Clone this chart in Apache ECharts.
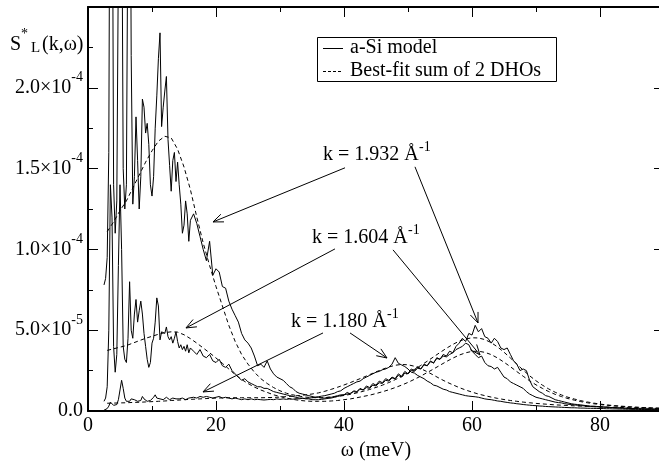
<!DOCTYPE html>
<html><head><meta charset="utf-8">
<script src="https://cdn.jsdelivr.net/npm/echarts@6/dist/echarts.min.js"></script>
<style>html,body{margin:0;padding:0;background:#fff}#c{width:659px;height:462px}</style>
</head><body><div id="c"></div>
<script>
// ---- data (values in units of 1e-5) ----
const omega = [2.5,2.75,3,3.25,3.5,3.75,4,4.25,4.5,4.75,5,5.25,5.5,5.75,6,6.25,6.5,6.75,7,7.25,7.5,7.75,8,8.25,8.5,8.75,9,9.25,9.5,9.75,10,10.25,10.5,10.75,11,11.25,11.5,11.75,12,12.25,12.5,12.75,13,13.25,13.5,13.75,14,14.25,14.5,14.75,15,15.25,15.5,15.75,16,
16.5,17,17.5,18,18.5,19,19.5,20,20.5,21,21.5,22,22.5,23,23.5,24,24.5,25,25.5,26,26.5,27,27.5,28,28.5,29,29.5,30,30.5,31,31.5,32,32.5,33,33.5,34,34.5,35,35.5,36,
36.5,37,37.5,38,38.5,39,39.5,40,40.5,41,41.5,42,42.5,43,43.5,44,44.5,45,45.5,46,46.5,47,47.5,48,48.5,49,49.5,50,50.5,51,51.5,52,52.5,53,53.5,54,54.5,55,55.5,56,
56.5,57,57.5,58,58.5,59,59.5,60,60.5,61,61.5,62,62.5,63,63.5,64,64.5,65,65.5,66,66.5,67,67.5,68,68.5,69,69.5,70,70.5,71,71.5,72,72.5,73,73.5,74,74.5,75,75.5,76,
76.5,77,77.5,78,78.5,79,79.5,80,80.5,81,81.5,82,82.5,83,83.5,84,84.5,85,85.5,86,86.5,87,87.5,88,88.5,89,89.5,90];

const sK1932 = [7.8,8.2,9.5,16,45,40,14,11,13,28, 45,35,15,12.5,14,32,45,22,12.8,14.5,
18.2,15.5,12.5,14.5,19.3,18.8,17.2,17.8,16.5,14, 13.3,14.5,17.5,19.5,21.8,23.4,17.6,18.8,19.8,20.7,
16.8,15.2,13.6,15.5,16.0,14.2,15.4,14.0,12.8,11.0, 11.5,13.0,12.2,10.5,11.8,
12.2,11.6,10.8,10.0,9.3,10.5,8.4,8.8,8.6,7.7, 7.6,6.8,6.3,5.9,5.5,4.8,4.4,4.2,3.9,3.4,
2.8,2.9,2.7,3.1,2.6,2.3,2.1,2.0,1.9,1.7, 1.5,1.4,1.2,1.1,1.05,1.0,0.95,0.9,0.85,0.85,
0.8,0.8,0.85,0.85,0.9,0.95,1.0,1.0,1.15,1.05, 1.25,1.2,1.4,1.3,1.55,1.45,1.7,1.6,1.85,1.75,
2.0,1.9,2.1,2.0,2.3,2.15,2.45,2.3,2.6,2.5, 2.75,2.6,2.9,2.8,3.1,2.95,3.3,3.2,3.5,3.4,
3.7,3.6,4.0,4.2,4.5,4.3,4.8,4.7,5.3,4.9, 5.1,4.6,4.5,4.2,4.5,4.3,3.9,3.8,3.9,3.5,
3.1,2.9,2.5,2.6,2.5,1.9,1.5,1.35,1.2,1.1, 0.95,0.9,0.8,0.7,0.65,0.6,0.55,0.5,0.45,0.42,
0.4,0.38,0.35,0.33,0.3,0.3,0.28,0.27,0.25,0.24, 0.22,0.21,0.2,0.19,0.18,0.17,0.16,0.15,0.15,0.14,
0.13,0.13,0.12,0.12,0.11,0.11,0.1,0.1];

const sK1604 = [0.6,0.8,1.5,5,14,12,4,2.4,3.5,9, 14,10,4,3.2,3.0,4.5,8,5,4.5,6.0,
6.9,5.5,6.2,6.8,6.0,4.8,4.0,3.2,2.7,3.0, 4.2,4.5,5.5,7.0,6.5,4.4,4.9,5.0,4.8,5.2,
4.6,4.4,4.6,4.2,4.5,4.9,4.3,3.9,4.1,3.8, 4.0,3.7,4.1,3.6,3.9,
3.7,3.5,3.8,3.4,3.3,3.5,3.1,3.0,3.2,2.8, 2.7,2.9,2.5,2.3,2.1,1.9,2.0,1.8,1.7,1.6,
1.5,1.5,1.4,1.4,1.3,1.2,1.15,1.1,1.05,1.0, 0.95,0.9,0.85,0.8,0.8,0.75,0.75,0.7,0.7,0.7,
0.72,0.75,0.78,0.8,0.85,0.9,0.95,1.0,1.05,1.1, 1.2,1.15,1.35,1.3,1.45,1.4,1.6,1.55,1.75,1.7,
1.9,1.85,2.05,2.0,2.2,2.1,2.35,2.3,2.5,2.45, 2.65,2.6,2.85,2.8,3.05,3.0,3.25,3.2,3.4,3.35,
3.5,3.6,3.8,3.9,4.0,4.2,4.1,3.7,3.5,3.3, 3.4,3.0,2.8,2.75,2.6,2.7,2.4,2.1,2.0,1.8,
1.7,1.6,1.5,1.4,1.2,1.05,0.95,0.85,0.8,0.75, 0.7,0.65,0.6,0.55,0.52,0.5,0.45,0.42,0.4,0.38,
0.35,0.33,0.32,0.3,0.28,0.27,0.26,0.25,0.24,0.23, 0.22,0.21,0.2,0.19,0.18,0.17,0.16,0.16,0.15,0.14,
0.14,0.13,0.13,0.12,0.12,0.11,0.11,0.1];

const sK1180 = [0.05,0.1,0.15,0.3,0.55,0.6,0.35,0.3,0.4,0.7, 1.3,1.9,1.4,0.8,0.6,0.7,0.6,0.75,0.65,0.7,
0.8,0.6,0.55,0.65,0.9,0.75,0.7,0.6,0.7,0.65, 0.7,0.85,1.0,0.8,0.7,0.75,0.8,0.7,0.75,0.85,
0.8,0.7,0.75,0.8,0.7,0.75,0.8,0.75,0.7,0.8, 0.75,0.7,0.75,0.8,0.8,
0.85,0.8,0.9,0.85,0.9,0.85,0.8,0.85,0.9,0.8, 0.85,0.8,0.75,0.8,0.75,0.7,0.75,0.7,0.75,0.7,
0.72,0.7,0.68,0.7,0.72,0.7,0.75,0.72,0.75,0.72, 0.75,0.73,0.76,0.75,0.78,0.78,0.8,0.82,0.85,0.88,
0.92,0.95,1.0,1.05,1.1,1.2,1.25,1.4,1.5,1.6, 1.7,1.8,1.85,2.0,2.1,2.2,2.3,2.4,2.45,2.55,
2.6,2.7,2.9,3.3,2.95,2.85,2.75,2.6,2.4,2.35, 2.2,2.1,2.0,1.85,1.75,1.6,1.55,1.45,1.35,1.3,
1.2,1.15,1.1,1.05,1.0,0.95,0.92,0.9,0.88,0.85, 0.8,0.75,0.72,0.7,0.66,0.62,0.6,0.56,0.53,0.5,
0.48,0.45,0.43,0.4,0.38,0.36,0.34,0.33,0.31,0.3, 0.28,0.27,0.26,0.25,0.24,0.23,0.22,0.21,0.2,0.2,
0.19,0.18,0.18,0.17,0.17,0.16,0.16,0.15,0.15,0.14, 0.14,0.13,0.13,0.12,0.12,0.11,0.11,0.1,0.1,0.1,
0.09,0.09,0.09,0.08,0.08,0.08,0.08,0.07];

const omegaFit = [3,4,5,6,7,8,9,10,11,12,13,14,15,16,17,18,19,20,21,22,23,24,25,26,27,28,29,30,31,32,33,34,35,36,37,38,39,40,41,42,43,44,45,46,47,48,49,50,51,52,53,54,55,56,57,58,59,60,61,62,63,64,65,66,67,68,69,70,71,72,73,74,75,76,77,78,79,80,81,82,83,84,85,86,87,88,89,90];

const fitK1932 = [11.1,11.7,12.4,13.0,13.8,14.6,15.4,16.1,16.7,17.0, 16.9,16.2,15.1,13.7,12.0,10.4,9.0,7.7,6.5,5.3,
4.3,3.5,2.9,2.4,2.0,1.7,1.45,1.25,1.1,1.0, 0.92,0.86,0.83,0.82,0.83,0.86,0.9,0.96,1.03,1.12,
1.22,1.33,1.46,1.6,1.76,1.94,2.13,2.34,2.57,2.82, 3.08,3.35,3.62,3.88,4.12,4.32,4.46,4.53,4.52,4.42,
4.23,3.96,3.64,3.28,2.9,2.53,2.18,1.87,1.6,1.36, 1.16,0.99,0.85,0.74,0.64,0.56,0.49,0.43,0.38,0.34,
0.31,0.28,0.25,0.23,0.21,0.19,0.18,0.16];

const fitK1604 = [3.75,3.85,3.95,4.05,4.2,4.35,4.5,4.62,4.75,4.85, 4.9,4.88,4.72,4.48,4.2,3.9,3.6,3.28,2.95,2.6,
2.25,1.95,1.7,1.48,1.3,1.15,1.0,0.9,0.8,0.72, 0.66,0.62,0.6,0.6,0.6,0.62,0.65,0.7,0.75,0.82,
0.9,0.98,1.08,1.19,1.31,1.45,1.6,1.77,1.96,2.16, 2.38,2.6,2.83,3.06,3.27,3.46,3.6,3.69,3.7,3.63,
3.49,3.28,3.02,2.74,2.44,2.15,1.87,1.62,1.4,1.2, 1.03,0.89,0.77,0.67,0.58,0.51,0.45,0.4,0.36,0.32,
0.29,0.26,0.24,0.22,0.2,0.18,0.17,0.15];

const fitK1180 = [0.48,0.49,0.5,0.51,0.53,0.54,0.56,0.58,0.6,0.62, 0.65,0.67,0.7,0.72,0.74,0.76,0.78,0.8,0.81,0.82,
0.82,0.82,0.82,0.82,0.82,0.83,0.84,0.86,0.89,0.92, 0.96,1.0,1.05,1.12,1.22,1.34,1.47,1.61,1.76,1.92,
2.08,2.25,2.42,2.58,2.72,2.83,2.88,2.86,2.77,2.62, 2.43,2.22,2.0,1.8,1.62,1.45,1.3,1.17,1.05,0.95,
0.86,0.78,0.71,0.65,0.6,0.55,0.51,0.47,0.44,0.41, 0.38,0.36,0.34,0.32,0.3,0.28,0.27,0.25,0.24,0.23,
0.22,0.21,0.2,0.19,0.18,0.17,0.16,0.15];

const yTickLabels = {0:['0.0',''], 5:['5.0×10','-5'], 10:['1.0×10','-4'], 15:['1.5×10','-4'], 20:['2.0×10','-4']};
const legendNames = ['a-Si model', 'Best-fit sum of 2 DHOs'];
const kLabels = ['k = 1.932 Å', 'k = 1.604 Å', 'k = 1.180 Å'];

// ---- annotation layout ----
const arrowDefs = [
  [[40.16,15.05],[19.53,11.70]],
  [[51.09,15.11],[60.94,5.45]],
  [[38.59,10.03],[15.31,5.14]],
  [[47.66,9.97],[61.25,3.47]],
  [[36.72,4.83],[17.97,1.18]],
  [[40.94,4.83],[46.72,3.28]]
];
const labelPos = [[323,155,419,147],[312,238,408,230],[291,322,387,314]];

const FONT = "'Liberation Serif', 'Times New Roman', serif";
const chart = echarts.init(document.getElementById('c'), null, {renderer:'canvas'});

function pairs(xs, ys){ return xs.map((x,i)=>[x, ys[i]]); }
const solid = {type:'line', symbol:'none', showSymbol:false, clip:true, animation:false,
  lineStyle:{color:'#000', width:1}, itemStyle:{color:'#000'}, z:3};
const dashed = {type:'line', symbol:'none', showSymbol:false, clip:true, animation:false,
  lineStyle:{color:'#000', width:1, type:[4,3]}, itemStyle:{color:'#000'}, z:2};

const xBase = {type:'value', min:0, max:90, gridIndex:0, splitLine:{show:false}};
const yBase = {type:'value', min:0, max:25, interval:5, gridIndex:0, splitLine:{show:false}};
const lineSt = {color:'#000', width:2};

chart.setOption({
  animation:false,
  backgroundColor:'#fff',
  grid:{left:88, top:7, width:576, height:404, outerBoundsMode:'none', containLabel:false},
  xAxis:[
    Object.assign({}, xBase, {position:'bottom', interval:20,
      axisLine:{show:true, onZero:false, lineStyle:lineSt},
      axisTick:{show:true, inside:true, length:10, lineStyle:{color:'#000', width:1}},
      axisLabel:{show:true, color:'#000', fontFamily:FONT, fontSize:20, margin:5, showMaxLabel:false},
      name:'ω (meV)', nameLocation:'middle', nameGap:22,
      nameTextStyle:{fontFamily:FONT, fontSize:20, color:'#000'}}),
    Object.assign({}, xBase, {position:'bottom', interval:10,
      axisLine:{show:false, onZero:false}, axisTick:{show:true, inside:true, length:5, lineStyle:{color:'#000', width:1}},
      axisLabel:{show:false}}),
    Object.assign({}, xBase, {position:'top', interval:20,
      axisLine:{show:true, onZero:false, lineStyle:lineSt},
      axisTick:{show:true, inside:true, length:10, lineStyle:{color:'#000', width:1}}, axisLabel:{show:false}}),
    Object.assign({}, xBase, {position:'top', interval:10,
      axisLine:{show:false, onZero:false}, axisTick:{show:true, inside:true, length:5, lineStyle:{color:'#000', width:1}},
      axisLabel:{show:false}})
  ],
  yAxis:[
    Object.assign({}, yBase, {position:'left',
      axisLine:{show:true, onZero:false, lineStyle:lineSt},
      axisTick:{show:true, inside:true, length:10, lineStyle:{color:'#000', width:1}},
      minorTick:{show:true, splitNumber:2, length:5, lineStyle:{color:'#000', width:1}},
      axisLabel:{show:true, margin:5, showMaxLabel:false, align:'right',
        formatter:function(v){ const l = yTickLabels[v]; if(!l) return ''; return l[1] ? '{m|'+l[0]+'}{s|'+l[1]+'}' : '{m|'+l[0]+'}'; },
        rich:{ m:{fontFamily:FONT, fontSize:20, color:'#000'},
               s:{fontFamily:FONT, fontSize:14, color:'#000', padding:[0,0,20,0]} }}}),
    Object.assign({}, yBase, {position:'right',
      axisLine:{show:true, onZero:false, lineStyle:lineSt},
      axisTick:{show:true, inside:true, length:10, lineStyle:{color:'#000', width:1}},
      minorTick:{show:true, splitNumber:2, length:5, lineStyle:{color:'#000', width:1}},
      axisLabel:{show:false}})
  ],
  series:[
    Object.assign({}, solid, {name:legendNames[0], data:pairs(omega, sK1932)}),
    Object.assign({}, solid, {name:legendNames[0], data:pairs(omega, sK1604)}),
    Object.assign({}, solid, {name:legendNames[0], data:pairs(omega, sK1180)}),
    Object.assign({}, dashed, {name:legendNames[1], data:pairs(omegaFit, fitK1932)}),
    Object.assign({}, dashed, {name:legendNames[1], data:pairs(omegaFit, fitK1604)}),
    Object.assign({}, dashed, {name:legendNames[1], data:pairs(omegaFit, fitK1180)})
  ]
});

// ---- annotations ----
const g = [];
arrowDefs.forEach(function(a){
  const p0 = chart.convertToPixel({gridIndex:0}, a[0]);
  const p1 = chart.convertToPixel({gridIndex:0}, a[1]);
  const dx = p0[0]-p1[0], dy = p0[1]-p1[1], L = Math.hypot(dx,dy);
  const ux = dx/L, uy = dy/L, ang = 22*Math.PI/180, hl = 11;
  const w1 = [p1[0] + hl*(ux*Math.cos(ang) - uy*Math.sin(ang)), p1[1] + hl*(ux*Math.sin(ang) + uy*Math.cos(ang))];
  const w2 = [p1[0] + hl*(ux*Math.cos(-ang) - uy*Math.sin(-ang)), p1[1] + hl*(ux*Math.sin(-ang) + uy*Math.cos(-ang))];
  g.push({type:'polyline', silent:true, z:10, shape:{points:[p0,p1]}, style:{stroke:'#000', lineWidth:1, fill:null}});
  g.push({type:'polyline', silent:true, z:10, shape:{points:[w1,p1,w2]}, style:{stroke:'#000', lineWidth:1, fill:null}});
});
kLabels.forEach(function(t,i){
  const p = labelPos[i];
  g.push({type:'text', silent:true, z:10, x:p[0], y:p[1], style:{text:t, fontFamily:FONT, fontSize:20, fill:'#000', align:'left', verticalAlign:'middle'}});
  g.push({type:'text', silent:true, z:10, x:p[2], y:p[3], style:{text:'-1', fontFamily:FONT, fontSize:14, fill:'#000', align:'left', verticalAlign:'middle'}});
});
// legend box (drawn manually)
g.push({type:'rect', silent:true, z:10, shape:{x:317.5, y:37.5, width:239, height:44}, style:{fill:'#fff', stroke:'#000', lineWidth:1}});
g.push({type:'line', silent:true, z:11, shape:{x1:323, y1:48.5, x2:343, y2:48.5}, style:{stroke:'#000', lineWidth:1}});
g.push({type:'line', silent:true, z:11, shape:{x1:323, y1:71.5, x2:343, y2:71.5}, style:{stroke:'#000', lineWidth:1, lineDash:[3,2]}});
g.push({type:'text', silent:true, z:11, x:350, y:48, style:{text:legendNames[0], fontFamily:FONT, fontSize:20, fill:'#000', align:'left', verticalAlign:'middle'}});
g.push({type:'text', silent:true, z:11, x:350, y:71, style:{text:legendNames[1], fontFamily:FONT, fontSize:20, fill:'#000', align:'left', verticalAlign:'middle'}});
// y-axis title S*_L(k,ω)
g.push({type:'text', silent:true, x:10, y:45, style:{text:'S', fontFamily:FONT, fontSize:20, fill:'#000', align:'left', verticalAlign:'middle'}});
g.push({type:'text', silent:true, x:21, y:34, style:{text:'*', fontFamily:FONT, fontSize:14, fill:'#000', align:'left', verticalAlign:'middle'}});
g.push({type:'text', silent:true, x:31, y:48, style:{text:'L', fontFamily:FONT, fontSize:15, fill:'#000', align:'left', verticalAlign:'middle'}});
g.push({type:'text', silent:true, x:42, y:45, style:{text:'(k,ω)', fontFamily:FONT, fontSize:20, fill:'#000', align:'left', verticalAlign:'middle'}});
chart.setOption({graphic:g});
</script></body></html>
